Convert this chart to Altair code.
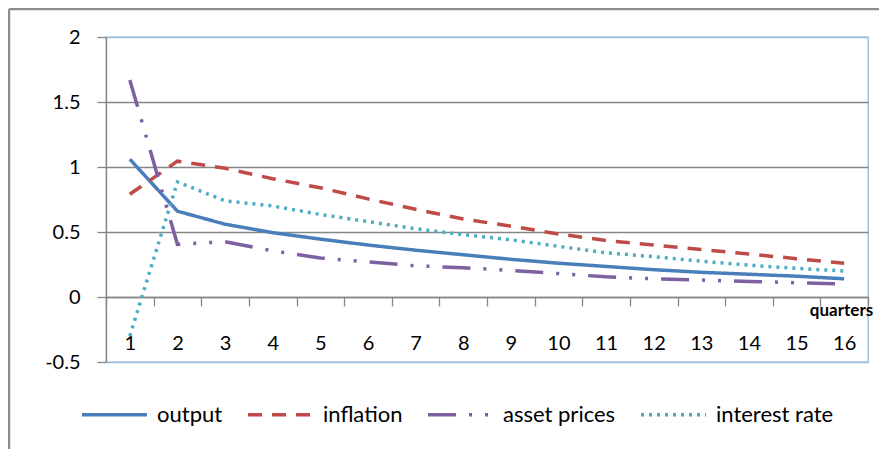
import altair as alt
import pandas as pd

quarters = list(range(1, 17))
series = ["output", "inflation", "asset prices", "interest rate"]
output = [1.06, 0.66, 0.56, 0.495, 0.445, 0.40, 0.36, 0.325, 0.29, 0.26, 0.235, 0.21, 0.19, 0.175, 0.16, 0.14]
inflation = [0.79, 1.045, 0.99, 0.91, 0.84, 0.755, 0.675, 0.60, 0.545, 0.485, 0.435, 0.40, 0.365, 0.33, 0.295, 0.26]
asset_prices = [1.67, 0.405, 0.425, 0.355, 0.30, 0.27, 0.24, 0.225, 0.205, 0.18, 0.155, 0.14, 0.13, 0.12, 0.11, 0.10]
interest_rate = [-0.30, 0.885, 0.74, 0.70, 0.635, 0.58, 0.525, 0.48, 0.44, 0.39, 0.34, 0.31, 0.275, 0.245, 0.22, 0.20]
y_ticks = [-0.5, 0, 0.5, 1, 1.5, 2]

colors = ["#4a7ebb", "#be4b48", "#7d60a0", "#4bacc6"]
dashes = [[1, 0], [14, 10], [28, 13, 3, 13, 3, 13], [3, 5]]

rows = []
for name, vals in zip(series, [output, inflation, asset_prices, interest_rate]):
    for q, v in zip(quarters, vals):
        rows.append({"quarter": q, "value": v, "series": name})
df = pd.DataFrame(rows)

FONT = "Lato"
GRID = "#868686"
BORDER = "#9bbbd9"

legend = alt.Legend(
    title=None, orient="none", legendX=-26, legendY=343, direction="horizontal",
    columns=4, symbolType="stroke", symbolSize=4225, symbolStrokeWidth=3.5,
    labelFont=FONT, labelFontSize=22, labelColor="#000000", labelOffset=8,
    columnPadding=18, padding=0,
)

lines = alt.Chart(df).mark_line(strokeWidth=3.5).encode(
    x=alt.X(
        "quarter:O",
        scale=alt.Scale(paddingInner=0, paddingOuter=0),
        axis=alt.Axis(
            title="quarters", titleX=735, titleY=13, titleAlign="center",
            titleBaseline="middle", titleFont=FONT, titleFontSize=17,
            titleFontWeight="bold", titleColor="#000000",
            tickBand="extent", offset=-65, labelAngle=0,
            labelFont=FONT, labelFontSize=20, labelColor="#000000",
            labelPadding=27, tickSize=9, tickColor=GRID, domainColor=GRID,
            domainWidth=1.3, tickWidth=1.3, grid=False,
        ),
    ),
    y=alt.Y(
        "value:Q",
        scale=alt.Scale(domain=[-0.5, 2], nice=False, zero=False),
        axis=alt.Axis(
            title=None, values=y_ticks, labelExpr="'' + datum.value",
            labelFont=FONT, labelFontSize=20, labelColor="#000000",
            labelPadding=17, tickSize=9, tickColor=GRID, domainColor=GRID,
            domainWidth=1.3, tickWidth=1.3, grid=True,
            gridColor={"condition": {"test": "datum.value == 2 || datum.value == -0.5", "value": BORDER}, "value": GRID},
            gridWidth=1.3,
        ),
    ),
    color=alt.Color("series:N", sort=series, scale=alt.Scale(domain=series, range=colors), legend=legend),
    strokeDash=alt.StrokeDash("series:N", sort=series, scale=alt.Scale(domain=series, range=dashes), legend=legend),
)

frame_data = alt.Data(values=[{"k": 1}])
frame_top = alt.Chart(frame_data).mark_rule(color="#8c8c8c", strokeWidth=2.5).encode(
    x=alt.value(-97), x2=alt.value(900), y=alt.value(-28)
)
frame_left = alt.Chart(frame_data).mark_rule(color="#8c8c8c", strokeWidth=2.5).encode(
    x=alt.value(-97), y=alt.value(-28), y2=alt.value(460)
)

chart = alt.layer(frame_top, frame_left, lines).properties(
    width=762, height=325,
    padding={"left": 98, "top": 29, "right": 11, "bottom": 90},
    autosize=alt.AutoSizeParams(type="none"),
    background="white",
).configure_view(stroke=BORDER, strokeWidth=1.3)

chart.save("out.html", embed_options={"renderer": "svg", "actions": False})
